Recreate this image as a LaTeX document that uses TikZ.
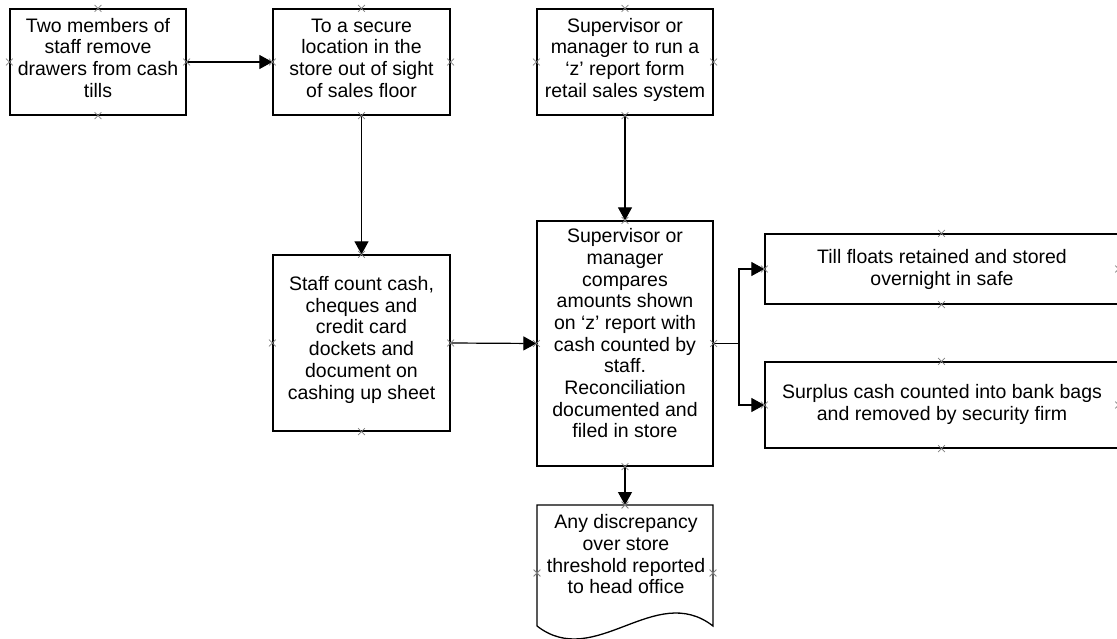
\documentclass[tikz,border=0pt]{standalone}
\usepackage{fontspec}
\setmainfont{Liberation Sans}
\usetikzlibrary{arrows.meta}
\tikzset{
  box/.style={draw=black, line width=1.3pt, inner sep=0pt, fill=white},
  txt/.style={align=center, inner sep=0pt, font=\fontsize{19.5}{21.7}\selectfont},
  conn/.style={draw=black, line width=1.2pt, -{Triangle[length=13pt,width=14pt]}},
  plain/.style={draw=black, line width=1.2pt},
  cpx/.style={draw=black!50, line width=0.8pt}
}
\newcommand\cpmark[1]{\draw[cpx] (#1) ++(-3.4,-3.4) -- ++(6.8,6.8) ++(-6.8,0) -- ++(6.8,-6.8);}
\begin{document}
\begin{tikzpicture}[x=1pt,y=-1pt]
\useasboundingbox (0,0) rectangle (1117,639);
\fill[white] (0,0) rectangle (1117,639);

% boxes
\node[box, minimum width=176pt, minimum height=106pt] (b1) at (98,62) {};
\node[box, minimum width=177pt, minimum height=106pt] (b2) at (361.5,62) {};
\node[box, minimum width=176pt, minimum height=106pt] (b3) at (625,62) {};
\node[box, minimum width=177pt, minimum height=176pt] (b4) at (361.5,343) {};
\node[box, minimum width=176pt, minimum height=245pt] (b5) at (625,343.5) {};
\node[box, minimum width=353pt, minimum height=70pt] (b6) at (941.5,269) {};
\node[box, minimum width=353pt, minimum height=86pt] (b7) at (941.5,405) {};

% document shape
\coordinate (dtl) at (537,505);
\coordinate (dtr) at (713,505);
\coordinate (dtop) at (625,505);
\coordinate (dwest) at (537,573);
\coordinate (deast) at (713,573);
\draw[box] (537,626) -- (dtl) -- (dtr) -- (713,626)
  .. controls (655,581) and (595,671) .. (537,626);

% texts
\node[txt] (t1) at (98,60.5) {\strut Two members of\\staff remove\\drawers from cash\\tills\strut};
\node[txt] (t2) at (361.5,60.5) {\strut To a secure\\location in the\\store out of sight\\of sales floor\strut};
\node[txt] (t3) at (625,60.5) {\strut Supervisor or\\manager to run a\\‘z’ report form\\retail sales system\strut};
\node[txt] (t4) at (361.5,340.5) {\strut Staff count cash,\\cheques and\\credit card\\dockets and\\document on\\cashing up sheet\strut};
\node[txt] (t5) at (625,336) {\strut Supervisor or\\manager\\compares\\amounts shown\\on ‘z’ report with\\cash counted by\\staff.\\Reconciliation\\documented and\\filed in store\strut};
\node[txt] (t6) at (942,270.5) {\strut Till floats retained and stored\\overnight in safe\strut};
\node[txt] (t7) at (942,405.5) {\strut Surplus cash counted into bank bags\\and removed by security firm\strut};
\node[txt] (t8) at (626,557) {\strut Any discrepancy\\over store\\threshold reported\\to head office\strut};

% connectors
\draw[conn] (b1.east) -- (b2.west);
\draw[conn] (b2.south) -- (b4.north);
\draw[conn] (b3.south) -- (b5.north);
\draw[conn] (b4.east) -- (b5.west);
\draw[conn] (b5.south) -- (dtop);
\coordinate (fork) at (739,343.5);
\draw[plain] (b5.east) -- (fork);
\draw[conn] (fork) |- (b6.west);
\draw[conn] (fork) |- (b7.west);

% connection point markers
\foreach \b in {b1,b2,b3,b4,b5,b6,b7}{
  \cpmark{\b.north}\cpmark{\b.south}\cpmark{\b.east}\cpmark{\b.west}
}
\cpmark{dtop}\cpmark{dwest}\cpmark{deast}
\end{tikzpicture}
\end{document}
